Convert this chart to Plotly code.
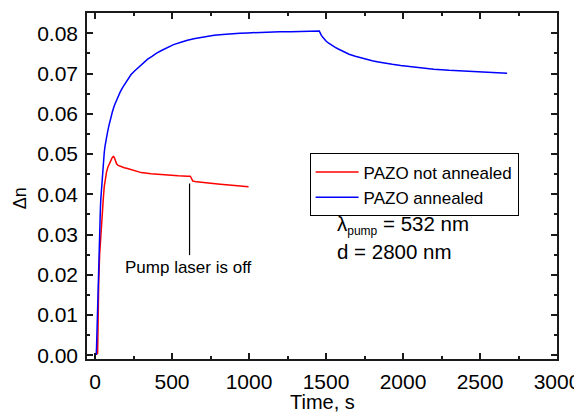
import plotly.graph_objects as go

# ---- data ----
red_name = "PAZO not annealed"
red_t = [0, 10, 14, 17, 20, 24, 30, 35, 39, 44, 48, 54, 60, 67, 75, 84, 93, 102, 110, 116, 121,
         126, 130, 135, 140, 150, 170, 190, 211, 235, 260, 300, 363, 420, 480, 540, 601, 618,
         622, 628, 635, 660, 700, 760, 813, 870, 930, 997]
red_dn = [0.0003, 0.0003, 0.0004, 0.0006, 0.010, 0.018, 0.025, 0.0285, 0.0304, 0.0335, 0.036,
          0.0390, 0.0419, 0.0440, 0.0456, 0.0468, 0.0477, 0.0485, 0.0490, 0.0493, 0.0494, 0.0491,
          0.0486, 0.0480, 0.0476, 0.0472, 0.0468, 0.0466, 0.0464, 0.0461, 0.0458, 0.0454, 0.0451,
          0.0449, 0.0447, 0.0446, 0.0445, 0.0445, 0.0443, 0.0436, 0.0433, 0.0431, 0.0429, 0.0427,
          0.0425, 0.0423, 0.0421, 0.0419]

blue_name = "PAZO annealed"
blue_t = [0, 8, 10, 12, 14, 16, 18, 20, 22, 25, 28, 31, 35, 38, 42, 46, 50, 55, 60, 65, 71, 76,
          82, 90, 100, 112, 125, 136, 147, 163, 180, 205, 233, 255, 280, 300, 320, 342, 370, 400,
          435, 470, 510, 558, 600, 650, 710, 774, 830, 880, 940, 990, 1050, 1100, 1150, 1200,
          1270, 1336, 1400, 1440, 1457, 1460, 1464, 1470, 1478, 1488, 1500, 1515, 1530, 1545,
          1560, 1580, 1595, 1620, 1650, 1690, 1725, 1760, 1800, 1840, 1880, 1930, 1985, 2050,
          2100, 2200, 2300, 2400, 2500, 2600, 2676]
blue_dn = [0.0003, 0.0003, 0.002, 0.005, 0.008, 0.012, 0.016, 0.020, 0.0235, 0.027, 0.0304,
           0.0334, 0.0365, 0.0390, 0.0415, 0.0443, 0.0465, 0.0486, 0.0504, 0.0520, 0.0535, 0.0545,
           0.0556, 0.0570, 0.0587, 0.0604, 0.0620, 0.0631, 0.0641, 0.0654, 0.0666, 0.0682, 0.0697,
           0.0706, 0.0715, 0.0722, 0.0729, 0.0736, 0.0743, 0.0751, 0.0758, 0.0765, 0.0772, 0.0778,
           0.0783, 0.0787, 0.0791, 0.0795, 0.0797, 0.0799, 0.0800, 0.0801, 0.0802, 0.0803, 0.0803,
           0.0804, 0.0804, 0.0805, 0.0805, 0.0806, 0.0806, 0.0803, 0.0799, 0.0795, 0.0791, 0.0786,
           0.0781, 0.0776, 0.0772, 0.0768, 0.0765, 0.0761, 0.0758, 0.0753, 0.0748, 0.0743, 0.0739,
           0.0735, 0.0732, 0.0729, 0.0726, 0.0723, 0.0720, 0.0717, 0.0715, 0.0711, 0.0708,
           0.0706, 0.0704, 0.0702, 0.0701]

x_ticks = [0, 500, 1000, 1500, 2000, 2500, 3000]
y_ticks = [0.00, 0.01, 0.02, 0.03, 0.04, 0.05, 0.06, 0.07, 0.08]
y_ticklabels = ["0.00", "0.01", "0.02", "0.03", "0.04", "0.05", "0.06", "0.07", "0.08"]

FONT = "Arial, Liberation Sans, sans-serif"
AX = "#1a1a1a"

fig = go.Figure()
fig.add_trace(go.Scatter(x=red_t, y=red_dn, mode="lines", name=red_name,
                         line=dict(color="#ff0000", width=1.5)))
fig.add_trace(go.Scatter(x=blue_t, y=blue_dn, mode="lines", name=blue_name,
                         line=dict(color="#0000ff", width=1.5)))

axis_common = dict(showline=True, linecolor=AX, linewidth=1.5, mirror="allticks",
                   ticks="inside", ticklen=6, tickwidth=1.5, tickcolor=AX,
                   showgrid=False, zeroline=False, automargin=False,
                   tickfont=dict(family=FONT, size=21, color="#000"))

fig.update_xaxes(range=[-52, 3000], tickvals=x_ticks, ticklabelstandoff=3,
                 minor=dict(ticks="inside", ticklen=3, tickwidth=1.5, tickcolor=AX, dtick=250,
                            tick0=0, showgrid=False),
                 **axis_common)
fig.update_yaxes(range=[-0.0009, 0.08505], tickvals=y_ticks, ticktext=y_ticklabels,
                 ticklabelstandoff=3,
                 minor=dict(ticks="inside", ticklen=3, tickwidth=1.5, tickcolor=AX, dtick=0.005,
                            tick0=0, showgrid=False),
                 **axis_common)

# the page body has an 8px margin, so the figure is drawn 8px smaller and offset
fig.update_layout(
    width=574, height=404,
    margin=dict(l=79, r=25, t=5, b=53, autoexpand=False),
    paper_bgcolor="white", plot_bgcolor="white",
    font=dict(family=FONT, color="#000"),
    showlegend=True,
    legend=dict(x=0.4736, y=0.594, xanchor="left", yanchor="top",
                bgcolor="white", bordercolor="#000", borderwidth=1,
                font=dict(family=FONT, size=17, color="#000"),
                tracegroupgap=0, itemwidth=43),
)

# axis titles
fig.add_annotation(text="Time, s", xref="paper", yref="paper", x=0.5, y=-0.124,
                   xanchor="center", yanchor="middle", showarrow=False,
                   font=dict(family=FONT, size=20, color="#000"))
fig.add_annotation(text="Δn", xref="paper", yref="paper", x=-0.142, y=0.465,
                   xanchor="center", yanchor="middle", showarrow=False, textangle=-90,
                   borderpad=0,
                   font=dict(family=FONT, size=18, color="#000"))

# pump laser off marker
fig.add_shape(type="line", xref="x", yref="y", x0=614, x1=614, y0=0.0427, y1=0.0249,
              line=dict(color="#000", width=1.2))
fig.add_annotation(text="Pump laser is off", xref="x", yref="y", x=604, y=0.0219,
                   xanchor="center", yanchor="middle", showarrow=False,
                   font=dict(family=FONT, size=17, color="#000"))

# conditions text
fig.add_annotation(text="λ<sub><span style=\"font-size:12px\">pump</span></sub> = 532 nm",
                   xref="x", yref="y", x=1556, y=0.0323,
                   xanchor="left", yanchor="middle", showarrow=False,
                   font=dict(family=FONT, size=20.5, color="#000"))
fig.add_annotation(text="d = 2800 nm", xref="x", yref="y", x=1556, y=0.0257,
                   xanchor="left", yanchor="middle", showarrow=False,
                   font=dict(family=FONT, size=20.5, color="#000"))

fig.write_html("out.html")
